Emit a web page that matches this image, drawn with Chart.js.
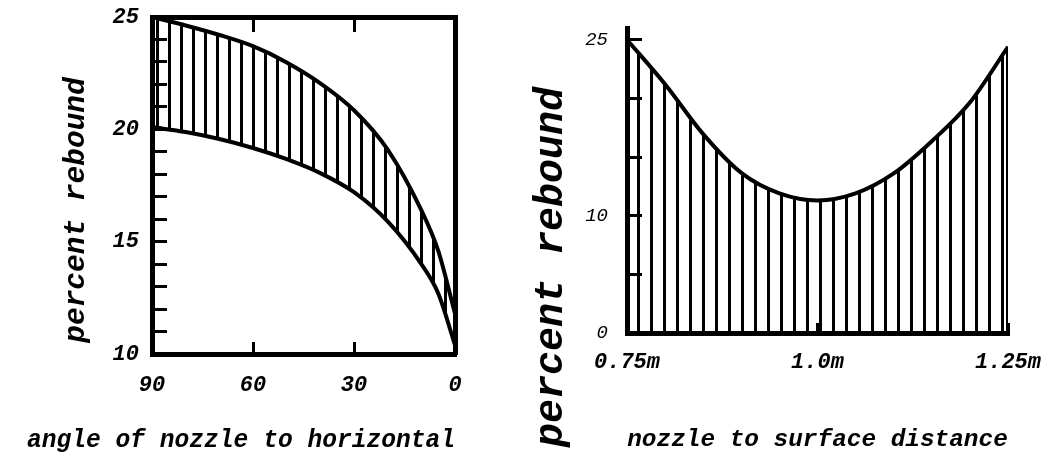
<!DOCTYPE html>
<html>
<head>
<meta charset="utf-8">
<script src="https://cdn.jsdelivr.net/npm/chart.js@4.4.1/dist/chart.umd.min.js"></script>
<style>
  html, body { margin: 0; padding: 0; background: #fff; overflow: hidden; }
  body { width: 1042px; height: 457px; position: relative; }
  .box { position: absolute; }
  #angle-box { left: 0; top: -36px; width: 490px; height: 492px; }
  #distance-box { left: 520px; top: 0; width: 522px; height: 506px; }
</style>
</head>
<body>
<div class="box" id="angle-box"><canvas id="chart-angle"></canvas></div>
<div class="box" id="distance-box"><canvas id="chart-distance"></canvas></div>
<script>
// left panel: rebound band vs angle of nozzle
const angles = [90, 80, 70, 60, 50, 40, 30, 20, 10, 5, 0]
const reboundHigh = [25, 24.62, 24.2, 23.7, 22.98, 22.05, 20.85, 19.1, 16.4, 14.6, 11.8]
const reboundLow = [20.1, 19.88, 19.57, 19.17, 18.67, 18.05, 17.2, 15.9, 14.0, 12.7, 10.4]
const angleTicks = [90, 60, 30, 0]
const angleTopTicks = [60, 30]
const angleReboundTicks = [10, 11, 12, 13, 14, 15, 16, 17, 18, 19, 20, 21, 22, 23, 24, 25]
const angleReboundLabels = [10, 15, 20, 25]

// right panel: rebound vs nozzle to surface distance
const distances = [0.75, 0.8, 0.85, 0.9, 0.95, 1.0, 1.05, 1.1, 1.15, 1.2, 1.25]
const reboundByDistance = [25, 21.2, 16.95, 13.65, 11.9, 11.3, 11.9, 13.6, 16.35, 19.65, 24.4]
const distanceTicks = [0.75, 1.0, 1.25]
const distanceLabels = ['0.75m', '1.0m', '1.25m']
const distanceReboundTicks = [0, 5, 10, 15, 20, 25]
const distanceReboundLabels = [0, 10, 25]

const FONT = "'Liberation Mono', monospace"
const INK = '#000'

function stripes(gap, width) {
  const c = document.createElement('canvas')
  c.width = gap
  c.height = 8
  const g = c.getContext('2d')
  g.fillStyle = INK
  g.fillRect(0, 0, width, 8)
  return g.createPattern(c, 'repeat')
}

function axisGrid(len) {
  return { drawOnChartArea: false, tickLength: len, tickWidth: 3, color: INK, tickColor: INK }
}

// fixed axis sizes, and no extra room for overhanging tick labels
function fixWidth(w) {
  return s => { s.width = w; s.paddingTop = 0; s.paddingBottom = 0 }
}
function fixHeight(h) {
  return s => { s.height = h; s.paddingLeft = 0; s.paddingRight = 0 }
}

const border = { color: INK, width: 5 }

new Chart(document.getElementById('chart-angle'), {
  type: 'line',
  data: {
    datasets: [
      {
        data: angles.map((a, i) => ({ x: a, y: reboundHigh[i] })),
        borderColor: INK,
        borderWidth: 4,
        pointRadius: 0,
        cubicInterpolationMode: 'monotone',
        backgroundColor: stripes(12, 3),
        fill: '+1'
      },
      {
        data: angles.map((a, i) => ({ x: a, y: reboundLow[i] })),
        borderColor: INK,
        borderWidth: 4,
        pointRadius: 0,
        cubicInterpolationMode: 'monotone',
        fill: false
      }
    ]
  },
  options: {
    responsive: true,
    maintainAspectRatio: false,
    animation: false,
    layout: { padding: { left: 27, right: 35, top: 0, bottom: 0 } },
    scales: {
      x: {
        type: 'linear',
        reverse: true,
        min: 0,
        max: 90,
        afterBuildTicks: s => { s.ticks = angleTicks.map(v => ({ value: v })) },
        afterFit: fixHeight(70.1),
        ticks: { autoSkip: false, maxRotation: 0, padding: 30, color: INK, font: { family: FONT, size: 22, style: 'italic', weight: 'bold' } },
        grid: axisGrid(-12),
        border
      },
      x2: {
        type: 'linear',
        position: 'top',
        reverse: true,
        min: 0,
        max: 90,
        afterBuildTicks: s => { s.ticks = angleTopTicks.map(v => ({ value: v })) },
        afterFit: fixHeight(53),
        ticks: { display: false },
        grid: axisGrid(-15),
        border
      },
      y: {
        min: 10,
        max: 25,
        afterBuildTicks: s => { s.ticks = angleReboundTicks.map(v => ({ value: v })) },
        afterFit: fixWidth(57.3),
        ticks: {
          autoSkip: false,
          padding: 28,
          color: INK,
          font: { family: FONT, size: 22, style: 'italic', weight: 'bold' },
          callback: v => angleReboundLabels.includes(v) ? String(v) : ''
        },
        grid: axisGrid(-15),
        border
      },
      y2: {
        position: 'right',
        min: 10,
        max: 25,
        afterFit: fixWidth(0),
        ticks: { display: false },
        grid: { display: false },
        border
      }
    },
    plugins: {
      legend: { display: false },
      tooltip: { enabled: false },
      title: {
        display: true,
        position: 'left',
        text: 'percent rebound',
        color: INK,
        font: { family: FONT, size: 29.5, style: 'italic', weight: 'bold' },
        padding: { top: 32.3, bottom: 0 }
      },
      subtitle: {
        display: true,
        position: 'bottom',
        text: 'angle of nozzle to horizontal',
        color: INK,
        font: { family: FONT, size: 26.5, style: 'italic', weight: 'bold' },
        padding: { top: 0, bottom: 0.1 }
      }
    }
  }
})

const lastX = distances[distances.length - 1]
const lastY = reboundByDistance[reboundByDistance.length - 1]

new Chart(document.getElementById('chart-distance'), {
  type: 'line',
  data: {
    datasets: [
      {
        data: distances.map((d, i) => ({ x: d, y: reboundByDistance[i] })),
        borderColor: INK,
        borderWidth: 4,
        pointRadius: 0,
        cubicInterpolationMode: 'monotone',
        backgroundColor: stripes(13, 3),
        fill: 'origin'
      },
      {
        // closing edge on the right
        data: [{ x: lastX, y: 0 }, { x: lastX, y: lastY }],
        borderColor: INK,
        borderWidth: 4,
        pointRadius: 0,
        fill: false
      }
    ]
  },
  options: {
    responsive: true,
    maintainAspectRatio: false,
    animation: false,
    layout: { padding: { left: 0, right: 34, top: 28, bottom: 0 } },
    scales: {
      x: {
        type: 'linear',
        min: 0.75,
        max: 1.25,
        afterBuildTicks: s => { s.ticks = distanceTicks.map(v => ({ value: v })) },
        afterFit: fixHeight(173),
        ticks: {
          autoSkip: false,
          maxRotation: 0,
          padding: 25.8,
          color: INK,
          font: { family: FONT, size: 22, style: 'italic', weight: 'bold' },
          callback: (v, i) => distanceLabels[i]
        },
        grid: axisGrid(-10),
        border,
        title: {
          display: true,
          text: 'nozzle to surface distance',
          color: INK,
          font: { family: FONT, size: 24.4, style: 'italic', weight: 'bold' },
          padding: { top: 0, bottom: 51.36 }
        }
      },
      y: {
        min: 0,
        max: 26,
        afterBuildTicks: s => { s.ticks = distanceReboundTicks.map(v => ({ value: v })) },
        afterFit: fixWidth(51),
        ticks: {
          autoSkip: false,
          padding: 34,
          color: INK,
          font: { family: FONT, size: 19, style: 'italic' },
          callback: v => distanceReboundLabels.includes(v) ? String(v) : ''
        },
        grid: axisGrid(-15),
        border
      }
    },
    plugins: {
      legend: { display: false },
      tooltip: { enabled: false },
      title: {
        display: true,
        position: 'left',
        text: 'percent rebound',
        color: INK,
        font: { family: FONT, size: 40, style: 'italic', weight: 'bold' },
        padding: { top: 8, bottom: 0 }
      }
    }
  }
})
</script>
</body>
</html>
